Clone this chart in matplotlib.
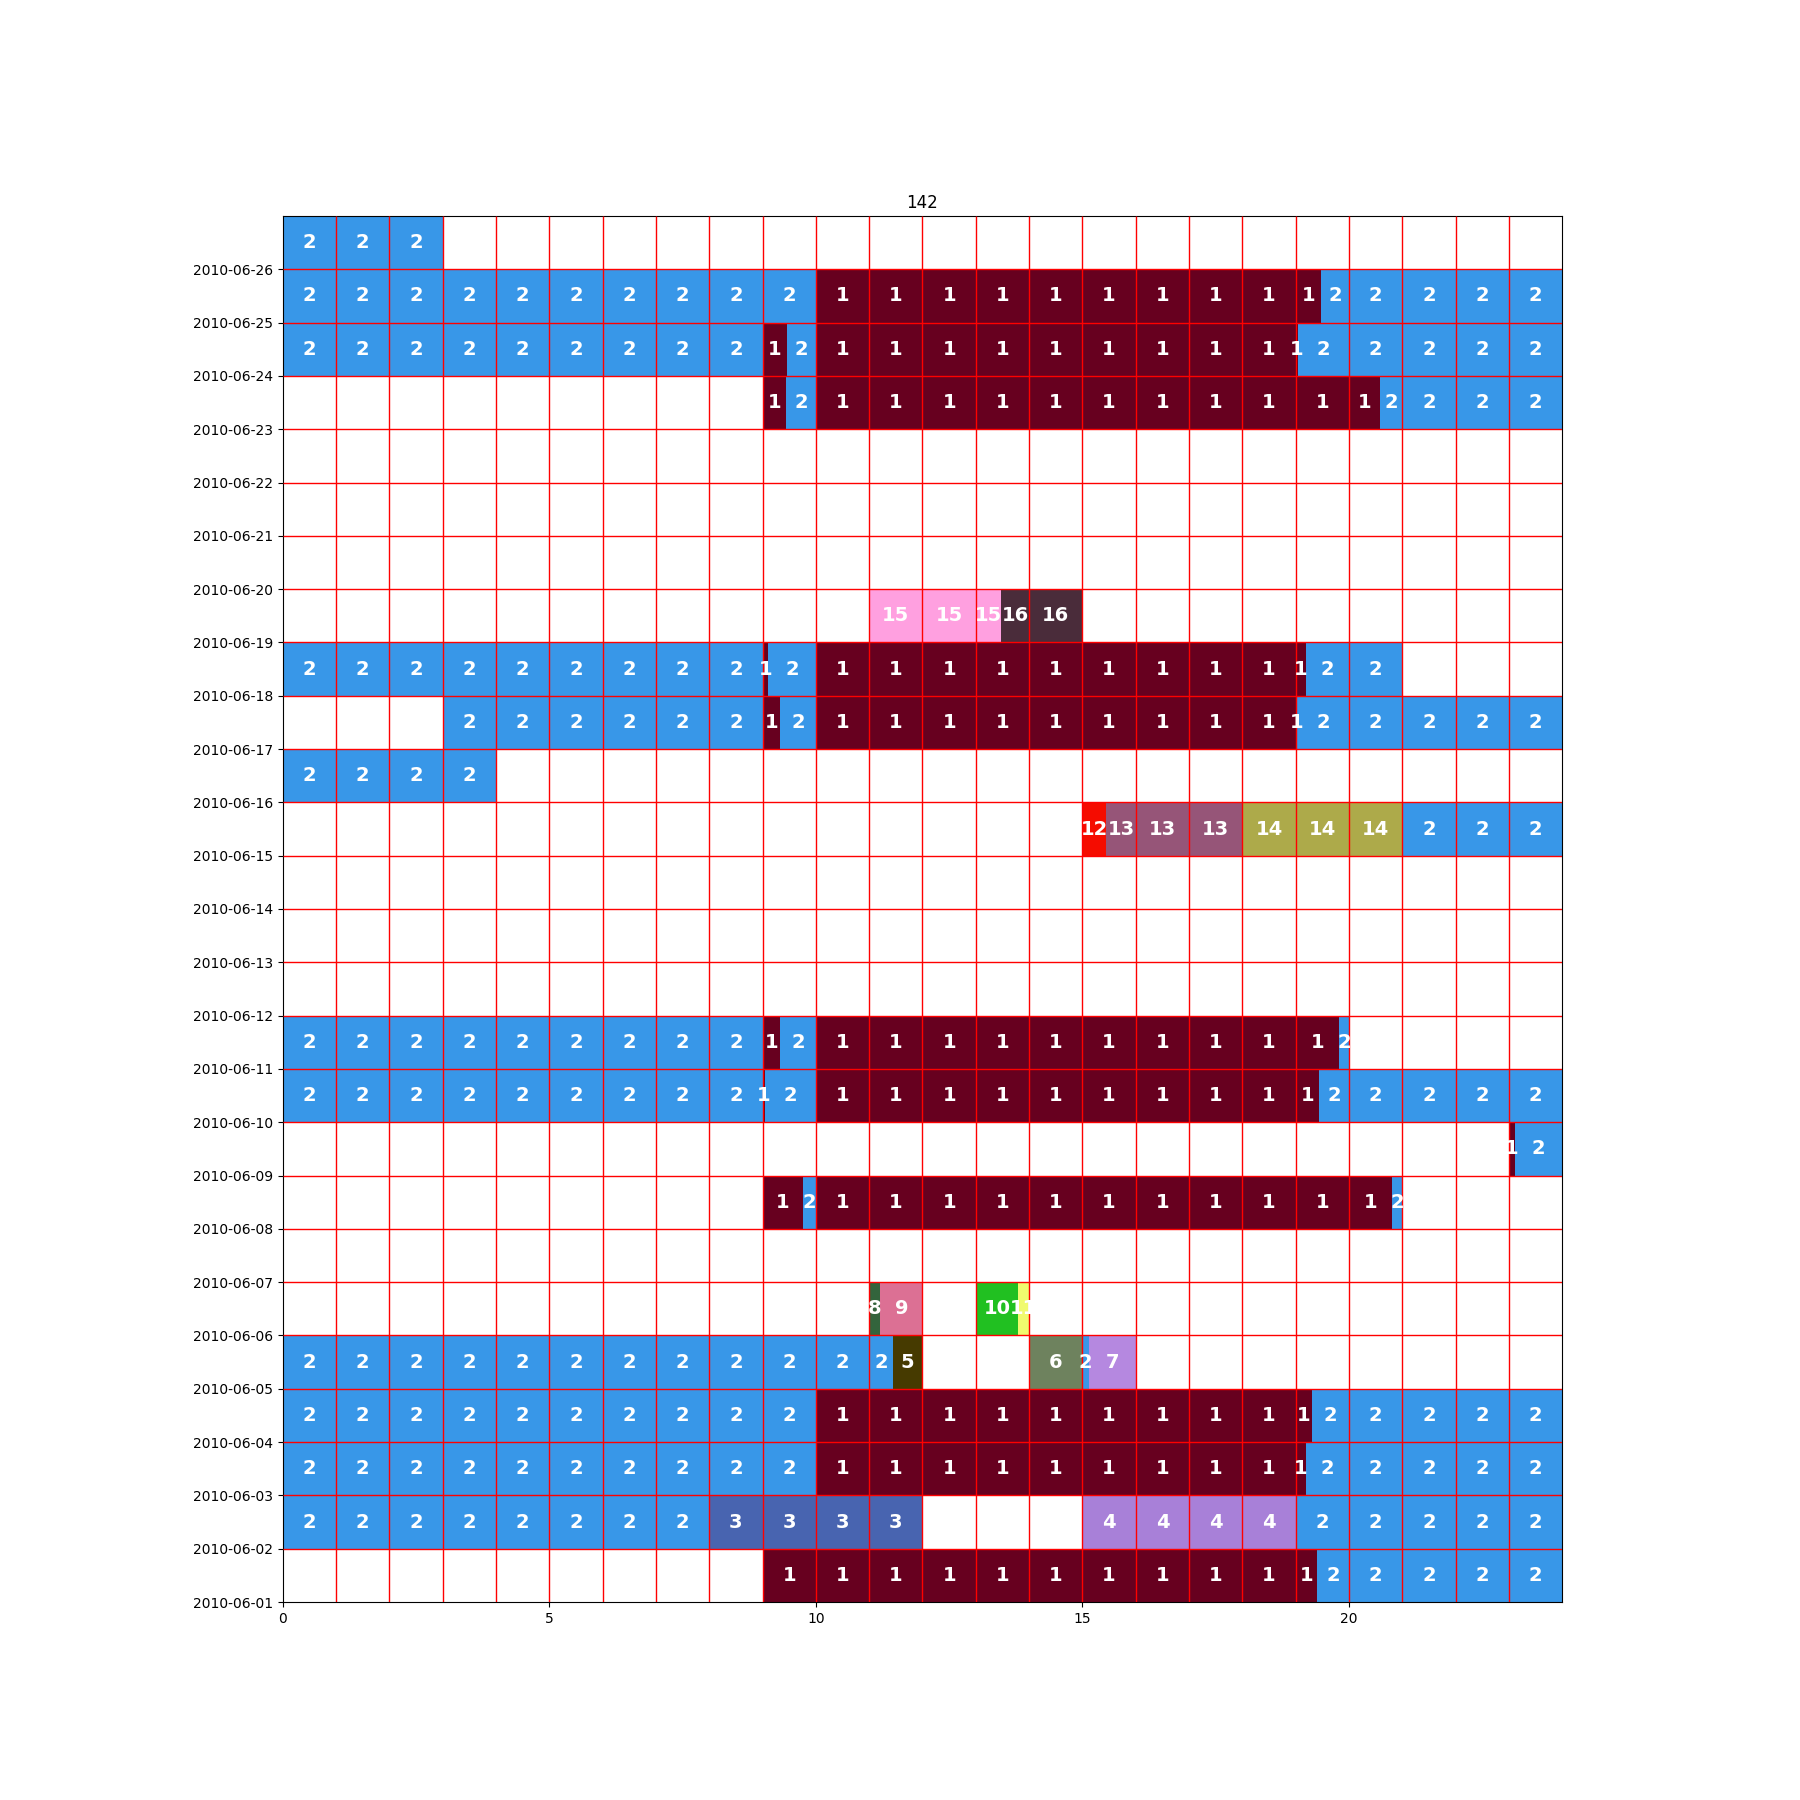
import math
import datetime as dt
import matplotlib
matplotlib.use("Agg")
import matplotlib.pyplot as plt
import matplotlib.dates as mdates

title = "142"

# Segments: date of row, start hour, end hour, activity code
seg_date = [
    "2010-06-01", "2010-06-01",
    "2010-06-02", "2010-06-02", "2010-06-02", "2010-06-02",
    "2010-06-03", "2010-06-03", "2010-06-03",
    "2010-06-04", "2010-06-04", "2010-06-04",
    "2010-06-05", "2010-06-05", "2010-06-05", "2010-06-05", "2010-06-05",
    "2010-06-06", "2010-06-06", "2010-06-06", "2010-06-06",
    "2010-06-08", "2010-06-08", "2010-06-08", "2010-06-08",
    "2010-06-09", "2010-06-09",
    "2010-06-10", "2010-06-10", "2010-06-10", "2010-06-10", "2010-06-10",
    "2010-06-11", "2010-06-11", "2010-06-11", "2010-06-11", "2010-06-11",
    "2010-06-15", "2010-06-15", "2010-06-15", "2010-06-15",
    "2010-06-16",
    "2010-06-17", "2010-06-17", "2010-06-17", "2010-06-17", "2010-06-17",
    "2010-06-18", "2010-06-18", "2010-06-18", "2010-06-18", "2010-06-18",
    "2010-06-19", "2010-06-19",
    "2010-06-23", "2010-06-23", "2010-06-23", "2010-06-23",
    "2010-06-24", "2010-06-24", "2010-06-24", "2010-06-24", "2010-06-24",
    "2010-06-25", "2010-06-25", "2010-06-25",
    "2010-06-26",
]
seg_start = [
    9, 19.4,
    0, 8, 15, 19,
    0, 10, 19.19,
    0, 10, 19.3,
    0, 11.44, 14, 15, 15.12,
    11, 11.21, 13, 13.8,
    9, 9.76, 10, 20.8,
    23, 23.12,
    0, 9, 9.05, 10, 19.44,
    0, 9, 9.33, 10, 19.82,
    15, 15.45, 18, 21,
    0,
    3, 9, 9.33, 10, 19.02,
    0, 9, 9.1, 10, 19.19,
    11, 13.47,
    9, 9.44, 10, 20.58,
    0, 9, 9.46, 10, 19.04,
    0, 10, 19.47,
    0,
]
seg_end = [
    19.4, 24,
    8, 12, 19, 24,
    10, 19.19, 24,
    10, 19.3, 24,
    11.44, 12, 15, 15.12, 16,
    11.21, 12, 13.8, 14,
    9.76, 10, 20.8, 21,
    23.12, 24,
    9, 9.05, 10, 19.44, 24,
    9, 9.33, 10, 19.82, 20,
    15.45, 18, 21, 24,
    4,
    9, 9.33, 10, 19.02, 24,
    9, 9.1, 10, 19.19, 21,
    13.47, 15,
    9.44, 10, 20.58, 24,
    9, 9.46, 10, 19.04, 24,
    10, 19.47, 24,
    3,
]
seg_code = [
    1, 2,
    2, 3, 4, 2,
    2, 1, 2,
    2, 1, 2,
    2, 5, 6, 2, 7,
    8, 9, 10, 11,
    1, 2, 1, 2,
    1, 2,
    2, 1, 2, 1, 2,
    2, 1, 2, 1, 2,
    12, 13, 14, 2,
    2,
    2, 1, 2, 1, 2,
    2, 1, 2, 1, 2,
    15, 16,
    1, 2, 1, 2,
    2, 1, 2, 1, 2,
    2, 1, 2,
    2,
]

code_colors = {
    1: "#67001f", 2: "#3897e8", 3: "#4864b0", 4: "#a880d8",
    5: "#463a00", 6: "#6e825e", 7: "#b588e0", 8: "#33643c",
    9: "#dc7094", 10: "#21c021", 11: "#f0fa6e", 12: "#f50c00",
    13: "#965578", 14: "#adaa4a", 15: "#ffa0e0", 16: "#4a2c3a",
}

first_day = dt.date(2010, 6, 1)
n_days = 26
tick_days = [first_day + dt.timedelta(days=i) for i in range(n_days)]

fig = plt.figure(figsize=(18, 18), dpi=100)
ax = fig.add_subplot(111)

for d, s, e, c in zip(seg_date, seg_start, seg_end, seg_code):
    y0 = mdates.date2num(dt.datetime.strptime(d, "%Y-%m-%d"))
    h = math.floor(s)
    while h < e:
        ps = max(s, h)
        pe = min(e, h + 1)
        if pe > ps:
            ax.barh(y0 + 0.5, pe - ps, left=ps, height=1.0,
                    color=code_colors[c], linewidth=0, zorder=2)
            ax.text((ps + pe) / 2, y0 + 0.5, str(c), ha="center", va="center",
                    color="white", fontweight="bold", fontsize=14, zorder=5)
        h += 1

ymin = mdates.date2num(first_day)
ymax = mdates.date2num(first_day + dt.timedelta(days=n_days))
ax.vlines(range(1, 24), ymin, ymax, colors="red", linewidth=1, zorder=4)
ax.hlines([mdates.date2num(t) for t in tick_days[1:]], 0, 24,
          colors="red", linewidth=1, zorder=4)

ax.set_xlim(0, 24)
ax.set_ylim(ymin, ymax)
ax.set_yticks([mdates.date2num(t) for t in tick_days])
ax.set_yticklabels([t.strftime("%Y-%m-%d") for t in tick_days])
ax.set_xticks([0, 5, 10, 15, 20])
ax.set_aspect("equal")
ax.set_title(title)

fig.savefig("out.png", dpi=100)
